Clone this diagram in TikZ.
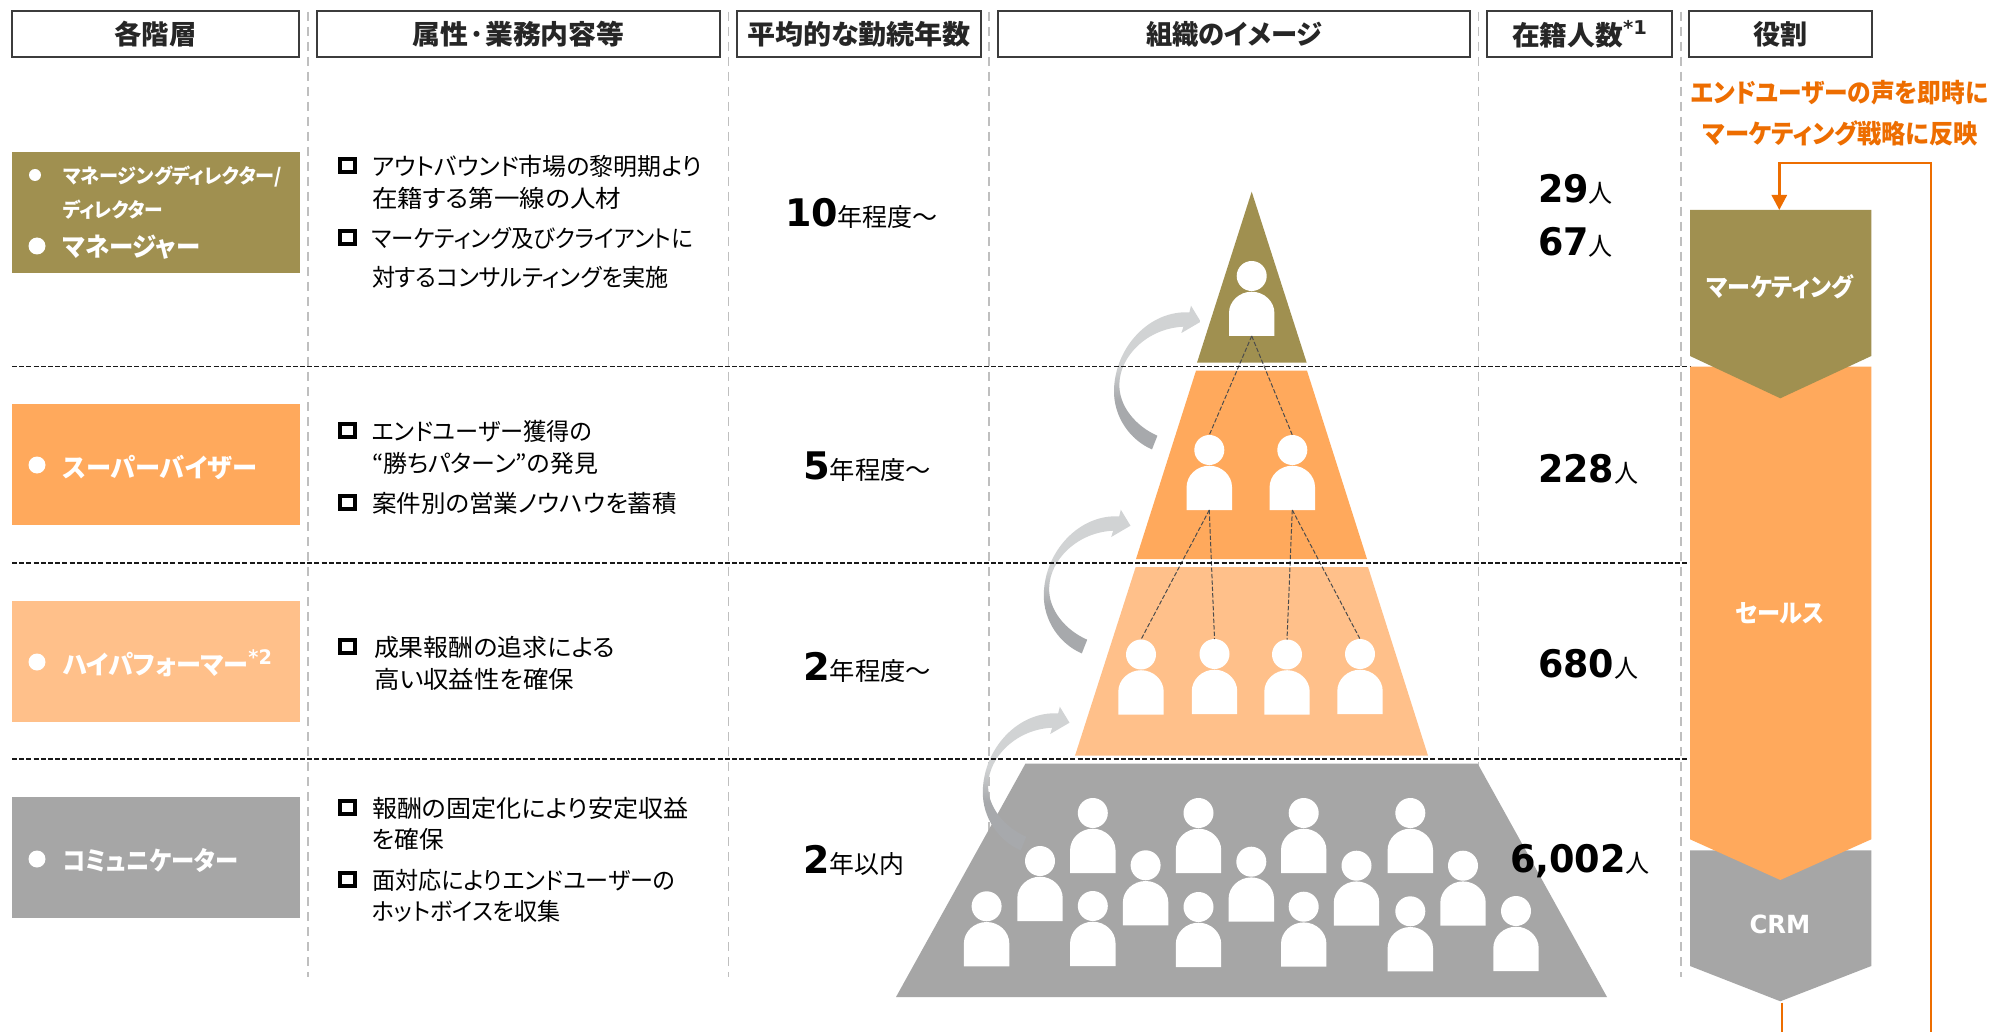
\documentclass[tikz,border=0pt]{standalone}
\usepackage{graphicx}
\usepackage{fontspec}
\usetikzlibrary{arrows.meta}
\newfontfamily\jp[RawFeature=+palt]{Noto Sans CJK JP}
\newfontfamily\dvb{DejaVu Sans Bold}
\newdimen\pxu \pxu=0.5pt
\newcommand\fw[2]{\resizebox{#1\pxu}{\height}{#2}}
\newcommand\hw[2]{\raisebox{-0.6pt}{\fw{#1}{#2}}}
\definecolor{cOlive}{HTML}{A09050}
\definecolor{cOrange}{HTML}{FFA95C}
\definecolor{cLight}{HTML}{FFC08A}
\definecolor{cGray}{HTML}{A6A6A6}
\definecolor{cLine}{HTML}{ED6D00}
\definecolor{cDark}{HTML}{262626}
\definecolor{arrowlight}{HTML}{D1D3D4}
\definecolor{arrowdark}{HTML}{A7A9AC}
\pgfdeclareverticalshading{arw}{100bp}{color(0bp)=(arrowdark); color(42bp)=(arrowdark); color(54bp)=(arrowlight); color(100bp)=(arrowlight)}
\newcommand\person[3]{\coordinate (#1) at (#2,#3); \coordinate (#1t) at (#2,#3-15); \coordinate (#1b) at (#2,#3+60); \pic at (#1) {personfig};}
\newcommand\sqb[3]{\node[sqbullet] (#1) at (347.5,#3) {};}
\tikzset{
  x=0.5pt,y=-0.5pt,
  personfig/.pic={
    \fill[white] (0,0) circle [radius=7.5pt];
    \fill[white] (-22.7,37) .. controls (-22.7,25.5) and (-12.5,15.7) .. (0,15.7)
      .. controls (12.5,15.7) and (22.7,25.5) .. (22.7,37) -- (22.7,60) -- (-22.7,60) -- cycle;
  },
  gradarrow/.pic={
    \shade[shading=arw] (0,0) -- (-9.7,-16) -- (-11.3,-9.3)
      .. controls (-50.7,-11.7) and (-85.7,25) .. (-86.7,68.3)
      .. controls (-87.3,95) and (-70.7,118.3) .. (-48.7,127.7)
      -- (-43.3,114)
      .. controls (-64,105) and (-82.3,85) .. (-81.3,61.7)
      .. controls (-80.7,35) and (-54,6.7) .. (-17.3,5)
      -- (-19.3,11.3) -- cycle;
  },
  hdr/.style={draw=cDark!90,line width=1.1pt,fill=white,inner sep=0pt,outer sep=0pt,minimum height=46\pxu,text=cDark,font=\jp\bfseries\fontsize{13.5}{16}\selectfont},
  tierbox/.style={inner sep=0pt,outer sep=0pt,minimum width=288\pxu,minimum height=121\pxu},
  vdash/.style={draw=black!25,line width=0.75pt,dash pattern=on 4.5pt off 3pt},
  hdash/.style={draw=black!90,line width=0.8pt,dash pattern=on 2.5pt off 1.1pt},
  conn/.style={draw=black!70,line width=0.5pt,dash pattern=on 2.2pt off 1pt},
  sqbullet/.style={draw=black,line width=2pt,fill=white,inner sep=0pt,minimum width=15\pxu,minimum height=13\pxu,outer sep=0pt},
  bodytxt/.style={anchor=base west,inner sep=0pt,outer sep=0pt,text=black,font=\jp\fontsize{12}{14}\selectfont},
  tiertxt/.style={anchor=base west,inner sep=0pt,outer sep=0pt,text=white,font=\jp\bfseries\fontsize{13}{15}\selectfont},
  tiersm/.style={tiertxt,font=\jp\bfseries\fontsize{10}{12}\selectfont},
  dotb/.style={circle,fill=white,inner sep=0pt,outer sep=0pt},
  numtxt/.style={anchor=base west,inner sep=0pt,outer sep=0pt,text=black},
  chevtxt/.style={inner sep=0pt,outer sep=0pt,text=white,font=\jp\bfseries\fontsize{12.5}{15}\selectfont},
  oline/.style={draw=cLine,line width=1.4pt},
  otxt/.style={inner sep=0pt,outer sep=0pt,text=cLine,font=\jp\bfseries\fontsize{13}{15}\selectfont},
}
\newcommand\bign[1]{{\dvb\fontsize{19}{22}\selectfont #1}}
\newcommand\jpn[1]{{\jp\fontsize{12.5}{15}\selectfont #1}}
\begin{document}
\begin{tikzpicture}
\useasboundingbox[fill=white] (0,0) rectangle (1993,1032);
% vertical guides
\foreach \vx/\vn in {308/a,728.5/b,989/c,1478.6/d,1681/e}{
  \coordinate (vt\vn) at (\vx,12); \coordinate (vb\vn) at (\vx,977);
  \draw[vdash] (vt\vn) -- (vb\vn);
}
% headers
\node[hdr,minimum width=287\pxu] (h1) at (155.5,34) {\hw{82}{各階層}};
\node[hdr,minimum width=403\pxu] (h2) at (518.5,34) {\hw{212}{属性·業務内容等}};
\node[hdr,minimum width=244\pxu] (h3) at (859,34) {\hw{224}{平均的な勤続年数}};
\node[hdr,minimum width=472\pxu] (h4) at (1234,34) {\hw{176}{組織のイメージ}};
\node[hdr,minimum width=185\pxu] (h5) at (1579.5,34) {\hw{135}{在籍人数\raisebox{.4em}{\dvb\fontsize{9.5}{10}\selectfont *1}}};
\node[hdr,minimum width=183\pxu] (h6) at (1780.5,34) {\hw{54}{役割}};
% tier boxes
\node[tierbox,fill=cOlive] (t1) at (156,212.5) {};
\node[tierbox,fill=cOrange] (t2) at (156,464.5) {};
\node[tierbox,fill=cLight] (t3) at (156,661.5) {};
\node[tierbox,fill=cGray] (t4) at (156,857.5) {};
\node[dotb,minimum size=12\pxu] (d1a) at (35,175) {};
\node[dotb,minimum size=17\pxu] (d1b) at (37,246) {};
\node[dotb,minimum size=17\pxu] (d2) at (37,465) {};
\node[dotb,minimum size=17\pxu] (d3) at (37,662) {};
\node[dotb,minimum size=17\pxu] (d4) at (37,859) {};
\node[tiersm] (l1a) at (63,184) {\fw{219}{マネージングディレクター/}};
\node[tiersm] (l1b) at (63,218) {\fw{100}{ディレクター}};
\node[tiertxt] (l1c) at (63,256.5) {\fw{137}{マネージャー}};
\node[tiertxt] (l2) at (63,477) {\fw{194}{スーパーバイザー}};
\node[tiertxt] (l3) at (63,674) {\fw{209}{ハイパフォーマー\raisebox{.35em}{\dvb\fontsize{10}{10}\selectfont *2}}};
\node[tiertxt] (l4) at (63,870.5) {\fw{175}{コミュニケーター}};
% body text
\sqb{b1}{}{166}\sqb{b2}{}{238}\sqb{b3}{}{430}\sqb{b4}{}{502.5}\sqb{b5}{}{646.4}\sqb{b6}{}{807}\sqb{b7}{}{879}
\node[bodytxt] (x1) at (372,176) {\fw{330}{アウトバウンド市場の黎明期より}};
\node[bodytxt] (x2) at (372,208) {\fw{249}{在籍する第一線の人材}};
\node[bodytxt] (x3) at (372,248) {\fw{321}{マーケティング及びクライアントに}};
\node[bodytxt] (x4) at (372,287) {\fw{297}{対するコンサルティングを実施}};
\node[bodytxt] (x5) at (372,440) {\fw{220}{エンドユーザー獲得の}};
\node[bodytxt] (x6) at (372,472.5) {\fw{226}{“勝ちパターン”の発見}};
\node[bodytxt] (x7) at (372,512.5) {\fw{305}{案件別の営業ノウハウを蓄積}};
\node[bodytxt] (x8) at (374,656.4) {\fw{241}{成果報酬の追求による}};
\node[bodytxt] (x9) at (374,688.6) {\fw{200}{高い収益性を確保}};
\node[bodytxt] (x10) at (372,817) {\fw{316.5}{報酬の固定化により安定収益}};
\node[bodytxt] (x11) at (372,848.6) {\fw{72}{を確保}};
\node[bodytxt] (x12) at (372,889) {\fw{303.5}{面対応によりエンドユーザーの}};
\node[bodytxt] (x13) at (372,920.7) {\fw{188.5}{ホットボイスを収集}};
% years
\node[numtxt] (y1) at (785,227) {\fw{153}{\bign{10}\jpn{年程度～}}};
\node[numtxt] (y2) at (803,480) {\fw{128}{\bign{5}\jpn{年程度～}}};
\node[numtxt] (y3) at (803,680.5) {\fw{128}{\bign{2}\jpn{年程度～}}};
\node[numtxt] (y4) at (803,873) {\fw{101}{\bign{2}\jpn{年以内}}};
% pyramid
\fill[cOlive] (1251.7,191.7) -- (1306.7,362.7) -- (1197,362.7) -- cycle;
\fill[cOrange] (1196,370.7) -- (1307,370.7) -- (1367,559) -- (1136,559) -- cycle;
\fill[cLight] (1135.7,567) -- (1368,567) -- (1428,755.7) -- (1075,755.7) -- cycle;
\fill[cGray] (1025.4,763.7) -- (1477.7,763.7) -- (1607,997) -- (896,997) -- cycle;
% persons
\person{pa}{1251.7}{276}
\person{pb}{1209.3}{450}
\person{pc}{1292.3}{450}
\person{pd}{1141}{654.5}
\person{pe}{1214.5}{654}
\person{pf}{1287}{654.5}
\person{pg}{1360}{654}
\person{q1}{986.6}{906.3}
\person{q2}{1040}{861}
\person{q3}{1092.8}{813}
\person{q4}{1092.8}{906}
\person{q5}{1145.6}{865.3}
\person{q6}{1198.5}{813}
\person{q7}{1198.5}{907}
\person{q8}{1251.3}{861.7}
\person{q9}{1303.7}{813}
\person{q10}{1303.7}{906.7}
\person{q11}{1356.5}{865.7}
\person{q12}{1410.3}{813}
\person{q13}{1410.3}{911.3}
\person{q14}{1463}{865.7}
\person{q15}{1516}{911}
% connectors
\draw[conn] (pab) -- (pbt);
\draw[conn] (pab) -- (pct);
\draw[conn] (pbb) -- (pdt);
\draw[conn] (pbb) -- (pet);
\draw[conn] (pcb) -- (pft);
\draw[conn] (pcb) -- (pgt);
% curved arrows
\coordinate (a1) at (1200.7,321.7);
\coordinate (a2) at (1130.5,525.7);
\coordinate (a3) at (1069.5,722.7);
\pic at (a1) {gradarrow};
\pic at (a2) {gradarrow};
\pic at (a3) {gradarrow};
% horizontal dashed
\foreach \hy/\hn in {366.7/a,563/b,759/c}{
  \coordinate (hl\hn) at (12,\hy); \coordinate (hr\hn) at (1690,\hy);
  \draw[hdash] (hl\hn) -- (hr\hn);
}
% counts
\node[numtxt] (n1) at (1538,202.7) {\fw{74.7}{\bign{29}\jpn{人}}};
\node[numtxt] (n2) at (1538,256) {\fw{74.7}{\bign{67}\jpn{人}}};
\node[numtxt] (n3) at (1538,482) {\fw{100}{\bign{228}\jpn{人}}};
\node[numtxt] (n4) at (1538,677.5) {\fw{100}{\bign{680}\jpn{人}}};
\node[numtxt] (n5) at (1510,872) {\fw{140}{\bign{6,002}\jpn{人}}};
% role chevrons
\fill[cGray] (1690,850.3) -- (1871.3,850.3) -- (1871.3,966) -- (1780.3,1001.3) -- (1690,966) -- cycle;
\fill[cOrange] (1690,366.7) -- (1871.3,366.7) -- (1871.3,839.3) -- (1780.3,880) -- (1690,839.3) -- cycle;
\fill[cOlive] (1690,210) -- (1871.3,210) -- (1871.3,356) -- (1780.3,398.3) -- (1690,356) -- cycle;
\node[chevtxt] (r1) at (1780,287) {\fw{146}{マーケティング}};
\node[chevtxt] (r2) at (1780,613) {\fw{89}{セールス}};
\node[chevtxt] (r3) at (1780,924.7) {\fw{60.7}{\dvb CRM}};
% orange text and loop
\node[otxt] (o1) at (1839.5,93) {\fw{297}{エンドユーザーの声を即時に}};
\node[otxt] (o2) at (1840.5,133.7) {\fw{275}{マーケティング戦略に反映}};
\coordinate (mtop) at (1779.3,210);
\coordinate (crnr) at (1931,163);
\coordinate (crnl) at (1779.3,163);
\coordinate (rbot) at (1931,1032);
\coordinate (cbot) at (1782,1002.7);
\coordinate (cend) at (1782,1032);
\draw[oline,-{Triangle[length=7.5pt,width=7.5pt]}] (rbot) -- (crnr) -- (crnl) -- (mtop);
\draw[oline] (cbot) -- (cend);
\end{tikzpicture}
\end{document}
